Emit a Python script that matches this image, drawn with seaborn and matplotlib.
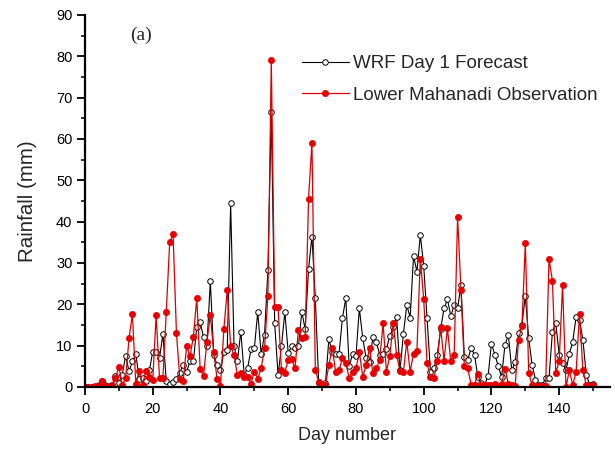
import numpy as np
import pandas as pd
import matplotlib
matplotlib.use("Agg")
import matplotlib.pyplot as plt
import seaborn as sns
from matplotlib.ticker import MultipleLocator

sns.set_style("ticks")
plt.rcParams['font.family'] = ['Liberation Sans', 'DejaVu Sans']

days = list(range(0, 151))

observation = [
    0, 0, 0, 0.2, 0.3, 1.5, 0.2, 0, 0.5, 2.2,
    4.9, 0.5, 2.1, 11.8, 17.7, 0.7, 3.9, 0.6, 3.9, 2.3,
    1.6, 17.3, 2.2, 2.2, 18.2, 35, 37, 13, 2.0, 1.5,
    9.8, 7.4, 12.2, 21.5, 4.4, 2.7, 11, 17.4, 8.5, 2.0,
    0.3, 14, 23.5, 9.8, 7.8, 2.9, 3.5, 2.5, 2.4, 0.8,
    3.7, 2.0, 4.5, 9.4, 21.9, 79, 19.4, 19.4, 4.1, 3.5,
    6.5, 6.7, 4.5, 13.8, 11.8, 12, 45.6, 59, 4, 1.3,
    0.5, 0.5, 5.3, 9.4, 3.7, 4.1, 6.9, 5.8, 2.1, 3.7,
    4.5, 8.5, 2.5, 5.3, 9.4, 3.3, 4.5, 6.5, 15.4, 3.7,
    7.6, 15.6, 7.8, 3.8, 3.6, 11, 3.7, 8.1, 8.8, 31,
    21.2, 5.7, 2.5, 2.1, 6.4, 14.4, 6.4, 14.2, 6.2, 7.8,
    41.2, 23.5, 5.1, 4.5, 0.6, 0.6, 3.1, 0.6, 0.5, 0.6,
    0.4, 0.8, 0.2, 0.8, 4.4, 0.8, 0.5, 0.3, 11.4, 14.8,
    34.8, 3.3, 0.5, 0.3, 0.2, 0.3, 0.3, 30.9, 25.7, 3.3,
    6.4, 24.7, 0, 4, 0.5, 3.7, 17.7, 4, 0.5, 0.3,
    0.4,
]

forecast = [
    0, 0, 0, 0, 0.5, 1.5, 0.5, 0.3, 0.5, 2.7,
    1.0, 3, 7.6, 3.8, 6.2, 8, 2, 2.2, 1.4, 4,
    8.5, 8.5, 7, 12.8, 1.5, 0.7, 1.1, 2, 3.5, 5.3,
    3.7, 6.2, 6.2, 14.6, 15.8, 12, 10, 25.7, 7.8, 5.3,
    4, 8.5, 9, 44.4, 10, 6.2, 13.4, 3, 4.5, 9.1,
    9.4, 18.2, 8, 12.6, 28.2, 66.6, 15.4, 2.9, 9.8, 18.2,
    8.2, 9.8, 9.5, 9.8, 18.2, 14, 28.5, 36.4, 21.5, 1,
    0.5, 1, 11.6, 8.5, 8, 8, 16.6, 21.5, 5, 8,
    7.5, 19, 11.8, 7, 6, 12, 11, 7.8, 8, 9.3,
    12.3, 14.5, 17, 4, 12.8, 19.8, 16.8, 31.7, 27.9, 36.8,
    29.3, 16.6, 3.7, 4.5, 7.8, 14, 19, 21.2, 17.2, 19.8,
    19, 24.7, 7.3, 6.5, 9.4, 7.8, 2.3, 1, 0.6, 2.6,
    10.5, 7.8, 5.1, 2.5, 10.2, 12.6, 4, 6, 13, 15,
    22, 11.8, 5.3, 1.8, 0.5, 0.5, 2.1, 2.1, 13.4, 15.4,
    7.8, 5.8, 4, 8, 11, 17, 16.2, 11.4, 2.9, 0.6,
    0.8,
]

series_labels = ["WRF Day 1 Forecast", "Lower Mahanadi Observation"]

fig = plt.figure(figsize=(6.15, 4.49), dpi=100)
ax = fig.add_axes([85 / 615, 1 - 387 / 449, (610 - 85) / 615, (387 - 15) / 449])

df = pd.DataFrame({"day": days, "wrf": forecast, "obs": observation})

sns.lineplot(data=df, x="day", y="wrf", ax=ax, color="black", linewidth=0.8,
             marker="o", markersize=4, markerfacecolor="white",
             markeredgecolor="black", markeredgewidth=0.7,
             label=series_labels[0])
sns.lineplot(data=df, x="day", y="obs", ax=ax, color="#d80000", linewidth=0.9,
             marker="o", markersize=4.5, markerfacecolor="#e60000",
             markeredgecolor="#e60000", markeredgewidth=0.5,
             label=series_labels[1])

ax.set_xlim(0, 155)
ax.set_ylim(0, 90)
ax.xaxis.set_major_locator(MultipleLocator(20))
ax.xaxis.set_minor_locator(MultipleLocator(10))
ax.yaxis.set_major_locator(MultipleLocator(10))
ax.yaxis.set_minor_locator(MultipleLocator(5))
ax.tick_params(axis="both", which="major", direction="out", length=5.5, width=1.3,
               labelsize=10.5, colors="black")
ax.tick_params(axis="x", which="major", pad=5.5)
ax.tick_params(axis="y", which="major", pad=3.5)
ax.tick_params(axis="both", which="minor", direction="out", length=3, width=1.3)

for s in ["top", "right"]:
    ax.spines[s].set_visible(False)
for s in ["left", "bottom"]:
    ax.spines[s].set_linewidth(1.6)
    ax.spines[s].set_color("black")

ax.set_xlabel("Day number", fontsize=13, labelpad=8)
ax.set_ylabel("Rainfall (mm)", fontsize=14.8, labelpad=14)

ax.text(130 / 615, 1 - 35 / 449, "(a)", transform=fig.transFigure,
        fontsize=14, family="Liberation Serif", ha="left", va="center")

leg = ax.legend(loc="upper left", bbox_to_anchor=(302 / 615, 1 - 55 / 449),
                bbox_transform=fig.transFigure, frameon=False, fontsize=13.5,
                handlelength=2.5, handletextpad=0.2, labelspacing=0.78,
                borderaxespad=0, borderpad=0)

fig.savefig("out.png", dpi=100)
